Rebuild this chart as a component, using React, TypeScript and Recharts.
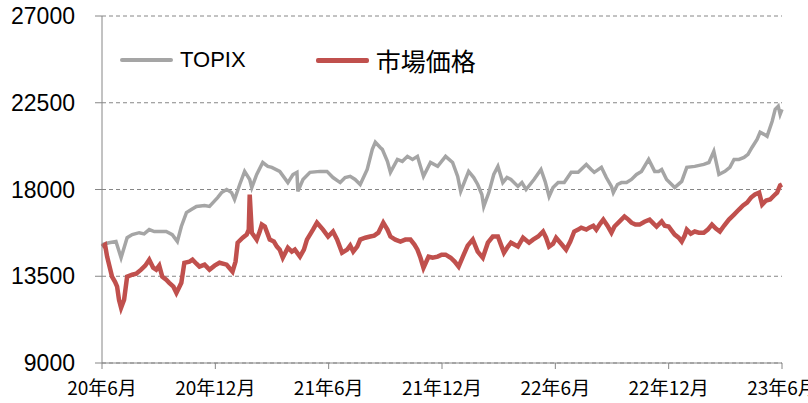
import { LineChart, Line, XAxis, YAxis, CartesianGrid, Legend } from "recharts";

// x values are months since Jun 2020
const xTickLabels = ["20年6月", "20年12月", "21年6月", "21年12月", "22年6月", "22年12月", "23年6月"];
const xTicks = [0, 6, 12, 18, 24, 30, 36];
const yTicks = [9000, 13500, 18000, 22500, 27000];

const topixMonths = [
  0.0, 0.37, 0.74, 1.01, 1.33, 1.6, 1.97, 2.23, 2.5, 2.77, 3.03, 3.4, 3.72, 3.99, 4.2, 4.47, 4.73, 5.0, 5.43, 5.69,
  6.12, 6.33, 6.6, 6.86, 7.02, 7.29, 7.55, 7.82, 7.93, 8.19, 8.51, 8.78, 8.99, 9.41, 9.84, 10.11, 10.32, 10.37, 10.64,
  11.01, 11.54, 11.91, 12.23, 12.61, 12.87, 13.14, 13.4, 13.67, 14.04, 14.31, 14.47, 14.73, 14.84, 15.11, 15.27, 15.64,
  15.9, 16.17, 16.44, 16.7, 17.02, 17.39, 17.77, 18.19, 18.56, 18.83, 18.99, 19.2, 19.41, 19.68, 19.89, 20.11, 20.21,
  20.48, 20.74, 20.96, 21.22, 21.44, 21.65, 22.02, 22.23, 22.45, 22.87, 23.24, 23.46, 23.67, 23.88, 24.15, 24.47, 24.84,
  25.21, 25.64, 25.9, 26.06, 26.44, 26.7, 26.97, 27.07, 27.29, 27.5, 27.77, 28.03, 28.3, 28.56, 28.94, 29.26, 29.47,
  29.63, 29.89, 30.16, 30.32, 30.69, 30.96, 31.38, 31.86, 32.13, 32.39, 32.66, 32.98, 33.24, 33.46, 33.72, 33.99, 34.2,
  34.41, 34.68, 34.84, 35.05, 35.21, 35.48, 35.64, 35.8, 35.9, 36.0,
];
const topixValues = [
  15140, 15240, 15300, 14460, 15500, 15660, 15760, 15700, 15920, 15820, 15820, 15820, 15660, 15300, 16080, 16800, 16960,
  17120, 17170, 17120, 17580, 17840, 18000, 17840, 17480, 18260, 18940, 18520, 18100, 18780, 19400, 19200, 19150, 18940,
  18360, 18780, 18890, 17900, 18520, 18890, 18940, 18940, 18620, 18360, 18620, 18680, 18520, 18260, 19040, 20080, 20450,
  20180, 20080, 19460, 18890, 19560, 19460, 19720, 19560, 19720, 18680, 19400, 19200, 19720, 19400, 18680, 17900, 18420,
  18940, 18620, 18260, 17740, 17120, 17840, 18780, 19200, 18360, 18620, 18520, 18160, 18360, 18000, 18520, 19040, 18420,
  17640, 18100, 18360, 18360, 18890, 18890, 19300, 19040, 18890, 19150, 18620, 18160, 17840, 18260, 18360, 18360, 18520,
  18780, 18940, 19560, 18940, 18940, 19040, 18520, 18260, 18100, 18420, 19150, 19200, 19300, 19400, 19980, 18780, 18940,
  19150, 19560, 19560, 19660, 19820, 20180, 20600, 20970, 20860, 20760, 21540, 22160, 22320, 21900, 22160,
];

const marketMonths = [
  0.0, 0.16, 0.27, 0.53, 0.69, 0.8, 0.9, 1.01, 1.17, 1.33, 1.6, 1.81, 2.07, 2.29, 2.5, 2.71, 2.87, 3.03, 3.19, 3.4, 3.56,
  3.78, 3.94, 4.1, 4.2, 4.36, 4.63, 4.79, 5.0, 5.16, 5.43, 5.69, 5.96, 6.22, 6.6, 6.91, 7.07, 7.18, 7.45, 7.66, 7.77, 7.82,
  7.93, 8.19, 8.35, 8.46, 8.62, 8.88, 9.1, 9.26, 9.41, 9.57, 9.84, 10.05, 10.21, 10.48, 10.69, 10.85, 11.17, 11.38, 11.7,
  11.97, 12.23, 12.45, 12.71, 12.98, 13.14, 13.3, 13.51, 13.67, 13.94, 14.2, 14.41, 14.63, 14.89, 15.11, 15.27, 15.53,
  15.8, 16.06, 16.33, 16.54, 16.7, 16.86, 17.02, 17.29, 17.5, 17.77, 17.98, 18.19, 18.46, 18.67, 18.88, 19.15, 19.36,
  19.63, 19.89, 20.16, 20.43, 20.69, 20.96, 21.12, 21.28, 21.49, 21.65, 22.02, 22.29, 22.61, 22.82, 23.09, 23.35, 23.51,
  23.67, 23.88, 24.04, 24.31, 24.57, 24.79, 25.0, 25.21, 25.37, 25.64, 25.8, 26.01, 26.17, 26.38, 26.54, 26.76, 26.97,
  27.13, 27.39, 27.66, 27.87, 28.03, 28.24, 28.46, 28.72, 28.99, 29.2, 29.36, 29.63, 29.79, 30.0, 30.16, 30.32, 30.53,
  30.69, 30.85, 30.96, 31.17, 31.38, 31.6, 31.86, 32.07, 32.29, 32.5, 32.71, 32.93, 33.19, 33.46, 33.72, 33.94, 34.15,
  34.36, 34.57, 34.79, 34.95, 35.16, 35.37, 35.58, 35.74, 35.9, 36.0,
];
const marketValues = [
  15040, 15140, 14520, 13480, 13210, 12960, 12280, 11860, 12280, 13480, 13580, 13630, 13840, 14050, 14360, 13940, 13840,
  14050, 13480, 13320, 13160, 12960, 12640, 12960, 13160, 14200, 14260, 14360, 14150, 14000, 14100, 13840, 14050, 14200,
  14100, 13740, 14260, 15240, 15500, 15660, 15920, 17740, 15760, 15400, 15820, 16180, 16080, 15400, 15300, 15040, 14880,
  14460, 14980, 14780, 14880, 14520, 14880, 15400, 15920, 16280, 15920, 15560, 15820, 15400, 14720, 14880, 15090, 14780,
  15040, 15400, 15500, 15560, 15610, 15760, 16280, 15920, 15560, 15400, 15300, 15400, 15400, 15140, 14880, 14460, 13940,
  14520, 14460, 14520, 14620, 14620, 14460, 14260, 14000, 14620, 15090, 15400, 14780, 14460, 15240, 15560, 15560, 15140,
  14720, 15040, 15240, 15040, 15500, 15240, 15400, 15560, 15820, 15500, 15040, 15190, 15500, 15190, 14880, 15300, 15820,
  15920, 16020, 15920, 16020, 16120, 15920, 16230, 16440, 16120, 15760, 16080, 16330, 16600, 16440, 16280, 16180, 16180,
  16330, 16440, 16230, 16080, 16340, 16120, 16080, 15870, 15660, 15500, 15300, 15610, 15920, 15710, 15820, 15760, 15760,
  15920, 16180, 15970, 15820, 16120, 16440, 16700, 16960, 17170, 17320, 17580, 17740, 17840, 17220, 17430, 17480, 17690,
  17840, 18210, 18260,
];

const topixData = topixMonths.map((m, i) => ({ m, v: topixValues[i] }));
const marketData = marketMonths.map((m, i) => ({ m, v: marketValues[i] }));

const GRAY = "#A5A5A5";
const RED = "#C0504D";
const AXIS = "#868686";

const renderLegend = () => (
  <div style={{ display: "flex", alignItems: "center", height: 40 }}>
    <span style={{ display: "inline-block", width: 53, height: 4, background: GRAY, borderRadius: 2 }} />
    <span style={{ marginLeft: 7, fontSize: 22, fontFamily: "Liberation Sans", color: "#000" }}>TOPIX</span>
    <span style={{ display: "inline-block", width: 53, height: 5, background: RED, marginLeft: 70, borderRadius: 2 }} />
    <span style={{ marginLeft: 7, fontSize: 25, fontFamily: "Noto Sans CJK JP", color: "#000" }}>市場価格</span>
  </div>
);

export default function App() {
  return (
    <div style={{ position: "absolute", left: 0, top: 0 }}>
      <LineChart width={808} height={403} margin={{ top: 16, right: 26, bottom: 0, left: 0 }}>
        <CartesianGrid horizontal vertical={false} stroke={AXIS} strokeDasharray="4 3" />
        <XAxis
          dataKey="m"
          type="number"
          domain={[0, 36]}
          ticks={xTicks}
          interval={0}
          height={40}
          tickFormatter={(v: number) => xTickLabels[Math.round(v / 6)]}
          axisLine={{ stroke: AXIS }}
          tickLine={{ stroke: AXIS }}
          tickSize={6}
          tickMargin={13}
          tick={{ fontSize: 19, fill: "#000", fontFamily: "Noto Sans CJK JP" }}
          allowDuplicatedCategory={false}
        />
        <YAxis
          type="number"
          domain={[9000, 27000]}
          ticks={yTicks}
          interval={0}
          width={102}
          axisLine={{ stroke: AXIS }}
          tickLine={{ stroke: AXIS }}
          tickSize={7}
          tickMargin={20}
          tick={{ fontSize: 23, fill: "#000", fontFamily: "Liberation Sans" }}
        />
        <Legend
          layout="vertical"
          verticalAlign="middle"
          align="center"
          content={renderLegend}
          wrapperStyle={{ top: 40, left: 120, width: 420 }}
        />
        <Line
          data={topixData}
          dataKey="v"
          name="TOPIX"
          stroke={GRAY}
          strokeWidth={3.5}
          dot={false}
          isAnimationActive={false}
        />
        <Line
          data={marketData}
          dataKey="v"
          name="市場価格"
          stroke={RED}
          strokeWidth={4.5}
          dot={false}
          isAnimationActive={false}
        />
      </LineChart>
    </div>
  );
}
